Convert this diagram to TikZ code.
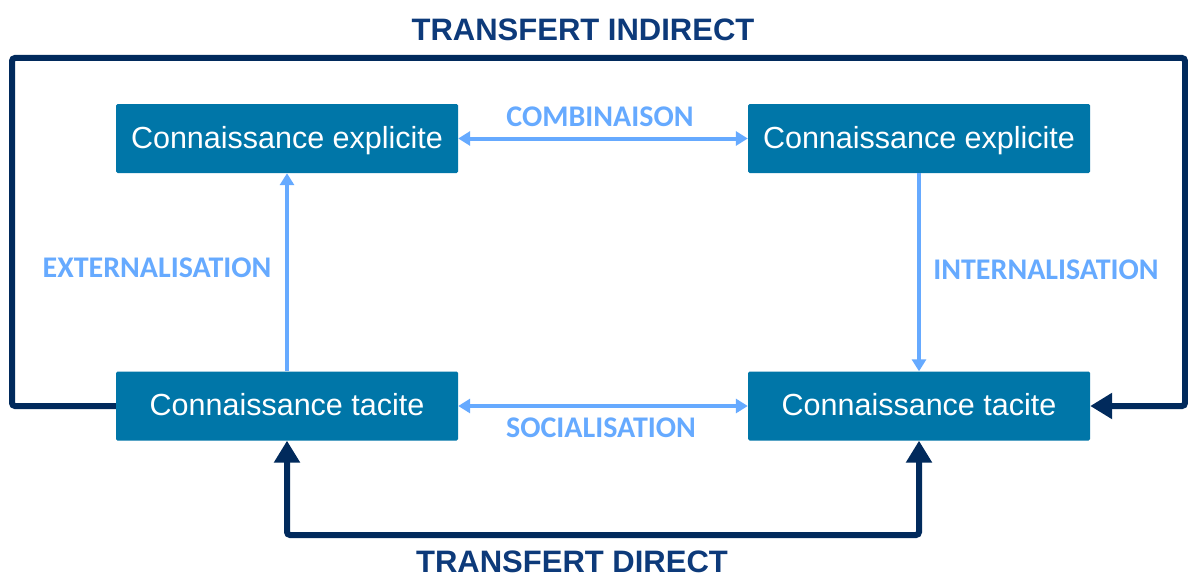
\documentclass[tikz,border=0pt]{standalone}
\usepackage{fontspec}
\setmainfont{Liberation Sans}
\newfontfamily\calib{Carlito}
\usetikzlibrary{arrows.meta}
\definecolor{boxblue}{RGB}{0,118,168}
\definecolor{navyline}{RGB}{1,42,92}
\definecolor{navytext}{RGB}{13,58,122}
\definecolor{lightb}{RGB}{102,170,255}
\tikzset{
  darktip/.tip={Triangle[width=25pt,length=22pt]},
  lighttip/.tip={Triangle[width=14pt,length=12pt]},
  kbox/.style={fill=boxblue, rounded corners=1.5pt, minimum width=342pt, minimum height=69pt, inner sep=0pt, text height=19.5pt, text depth=0pt, text=white, font=\fontsize{30.5}{32}\selectfont},
  darkline/.style={draw=navyline, line width=6pt, rounded corners=3pt},
  lightline/.style={draw=lightb, line width=4pt},
  bigtitle/.style={text=navytext, font=\fontsize{31}{33}\bfseries\selectfont, inner sep=0pt},
  proc/.style={text=lightb, font=\calib\fontsize{30}{32}\bfseries\selectfont, inner sep=0pt}
}
\begin{document}
\begin{tikzpicture}[x=1pt,y=-1pt]
\useasboundingbox (0,0) rectangle (1188,578);
\fill[white] (0,0) rectangle (1188,578);
\node[kbox] (tl) at (287,138.5) {Connaissance explicite};
\node[kbox] (tr) at (919,138.5) {Connaissance explicite};
\node[kbox] (bl) at (287,406) {Connaissance tacite};
\node[kbox] (br) at (919,406) {Connaissance tacite};
\coordinate (i1) at (12,406);
\coordinate (i2) at (12,58);
\coordinate (i3) at (1185,58);
\coordinate (i4) at (1185,406);
\coordinate (d1) at (287,535);
\coordinate (d2) at (919,535);
\draw[darkline, -darktip] (bl.west) -- (i1) -- (i2) -- (i3) -- (i4) -- (br.east);
\draw[darkline, darktip-darktip] (bl.south) -- (d1) -- (d2) -- (br.south);
\draw[lightline, lighttip-lighttip] (tl.east) -- (tr.west);
\draw[lightline, lighttip-lighttip] (bl.east) -- (br.west);
\draw[lightline, -lighttip] (bl.north) -- (tl.south);
\draw[lightline, -lighttip] (tr.south) -- (br.north);
\node[bigtitle] (ti) at (583,30) {TRANSFERT INDIRECT};
\node[bigtitle] (td) at (572,562) {TRANSFERT DIRECT};
\node[proc] (comb) at (600,117) {COMBINAISON};
\node[proc] (soc) at (601,428) {SOCIALISATION};
\node[proc] (ext) at (157,268) {EXTERNALISATION};
\node[proc] (int) at (1046,270) {INTERNALISATION};
\end{tikzpicture}
\end{document}
